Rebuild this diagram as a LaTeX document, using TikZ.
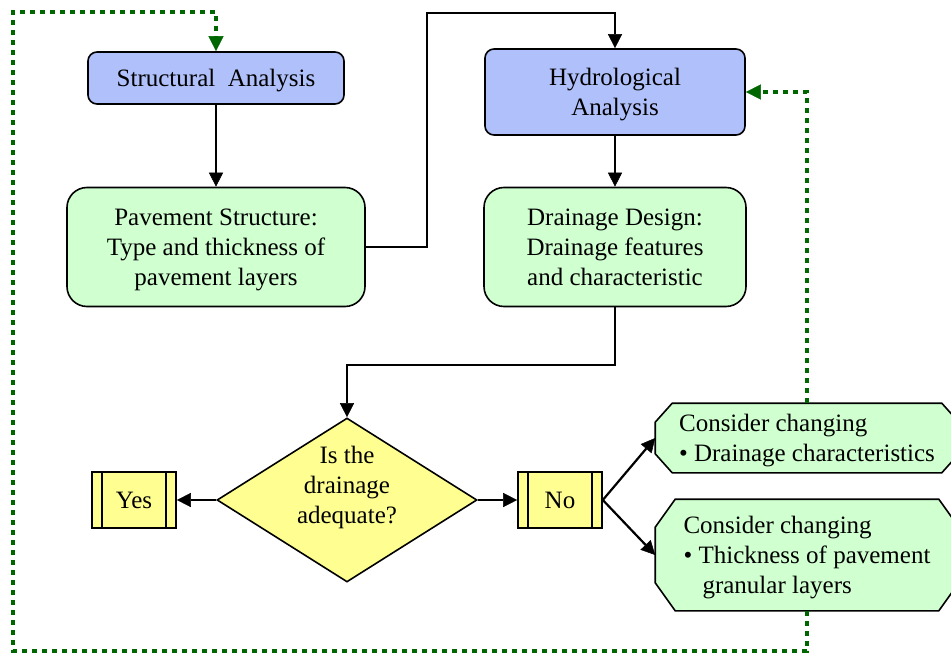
\documentclass[tikz,border=0pt]{standalone}
\usepackage{fontspec}
\setmainfont{Liberation Serif}
\usetikzlibrary{shapes.geometric,arrows.meta,backgrounds}
\definecolor{anblue}{RGB}{176,192,250}
\definecolor{resgreen}{RGB}{208,255,208}
\definecolor{askyellow}{RGB}{255,255,145}
\definecolor{fbgreen}{RGB}{0,102,0}
\begin{document}
\begin{tikzpicture}[x=1pt,y=-1pt,line join=miter]
			\tikzset{every node/.style={font=\fontsize{25pt}{30pt}\selectfont,align=center,inner sep=0pt,text depth=-3pt},
				box/.style={draw,line width=1.6pt},
				anbox/.style={box,fill=anblue,rounded corners=9pt},
				resbox/.style={box,fill=resgreen,rounded corners=20pt,minimum height=119pt},
				askbox/.style={box,fill=askyellow,diamond,aspect=1.585,inner sep=-10pt,text depth=31pt,minimum width=260pt,minimum height=164pt},
				ansbox/.style={box,fill=askyellow,minimum width=84pt,minimum height=56pt},
				optbox/.style={line width=1.6pt,align=left,minimum width=302pt},
				conn/.style={line width=2.2pt,-{Triangle[length=14pt,width=14pt,line width=0.5pt]}},
				fb/.style={fbgreen,line width=4pt,dash pattern=on 5pt off 5pt,-{Triangle[length=15pt,width=15pt,line width=0.5pt]}}}
			\useasboundingbox (0,0) rectangle (951,653);
			\node[anbox,minimum width=256pt,minimum height=52pt] (sa) at (216,78) {Structural\ \ Analysis};
			\node[anbox,minimum width=260pt,minimum height=86pt] (ha) at (615,92) {Hydrological\\Analysis};
			\node[resbox,minimum width=298pt] (ps) at (216,247) {Pavement Structure:\\Type and thickness of\\pavement layers};
			\node[resbox,minimum width=262pt] (dd) at (615,247) {Drainage Design:\\Drainage features\\and characteristic};
			\node[askbox] (q) at (347,500) {Is the\\drainage\\adequate?};
			\node[ansbox] (yes) at (134,500) {Yes};
			\node[ansbox] (no) at (560,500) {No};
			\node[optbox,minimum height=68pt] (c1) at (807,438)
				{Consider changing\\\textbullet\ Drainage characteristics};
			\node[optbox,minimum height=110pt,text depth=-1pt] (c2) at (807,555)
				{Consider changing\\\textbullet\ Thickness of pavement\\\hspace*{19pt}granular layers};
			\begin{scope}[on background layer]
				\foreach \n/\cx/\cy in {c1/17/19,c2/20/28}
				\draw[box,fill=resgreen] ([xshift=\cx pt]\n.north west)--([xshift=-\cx pt]\n.north east)
					--([yshift=-\cy pt]\n.north east)--([yshift=\cy pt]\n.south east)
					--([xshift=-\cx pt]\n.south east)--([xshift=\cx pt]\n.south west)
					--([yshift=\cy pt]\n.south west)--([yshift=-\cy pt]\n.north west)--cycle;
			\end{scope}
			\foreach \n in {yes,no}
			\draw[line width=1.6pt] ([xshift=11pt]\n.north west)--([xshift=11pt]\n.south west)
				([xshift=-11pt]\n.north east)--([xshift=-11pt]\n.south east);
			\draw[conn] (sa)--(ps);
			\draw[conn] (ps.east)-|(427,13)-|(ha.north);
			\draw[conn] (ha)--(dd);
			\draw[conn] (dd.south)--++(0,58)-|(q.north);
			\draw[conn] (q.west)--(yes.east);
			\draw[conn] (q.east)--(no.west);
			\draw[conn] (no.east)--(c1.west);
			\draw[conn] (no.east)--(c2.west);
			\draw[fb] (c1.north)|-(ha.east);
			\draw[fb] (c2.south)--++(0,40)-|(13,12)-|(sa.north);
	\end{tikzpicture}
\end{document}
